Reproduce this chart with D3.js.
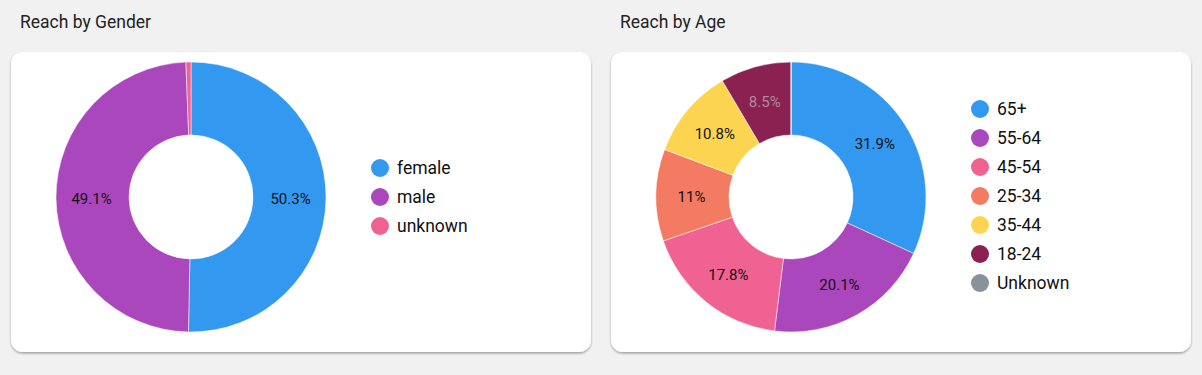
<!DOCTYPE html>
<html><head><meta charset="utf-8">
<script src="https://cdn.jsdelivr.net/npm/d3@7"></script>
<style>
html,body{margin:0;padding:0;background:#f1f1f1;font-family:Roboto,"Noto Sans",sans-serif;}
</style></head>
<body>
<svg id="c" width="1202" height="375"></svg>
<script>
const genderCats = ["female","male","unknown"];
const genderVals = [50.3, 49.1, 0.6];
const genderColors = ["#3399f0","#ab47bc","#f06292"];

const ageCats = ["65+","55-64","45-54","25-34","35-44","18-24","Unknown"];
const ageVals = [31.9, 20.1, 17.8, 11, 10.8, 8.5, 0];
const ageColors = ["#3399f0","#ab47bc","#f06292","#f27b62","#fdd44f","#8a2150","#8a9199"];

const svg = d3.select("#c");
const defs = svg.append("defs");
const f = defs.append("filter").attr("id","sh").attr("x","-5%").attr("y","-5%").attr("width","110%").attr("height","115%");
f.append("feDropShadow").attr("dx",0).attr("dy",1.5).attr("stdDeviation",1.2).attr("flood-color","#000").attr("flood-opacity",0.35);

function panel(x0, title, cats, vals, colors, legendY0, labelColors) {
  svg.append("text").attr("x", x0 + 9).attr("y", 28).attr("font-size", 17.5).attr("fill","#222").text(title);
  svg.append("rect").attr("x", x0).attr("y", 52).attr("width", 580).attr("height", 300)
    .attr("rx", 12).attr("fill", "#fff").attr("filter","url(#sh)");
  const cx = x0 + 180, cy = 197, R = 135, r = 62;
  const pie = d3.pie().sort(null).value(d => d.v);
  const data = pie(cats.map((c,i)=>({c, v: vals[i], i})));
  const arc = d3.arc().innerRadius(r).outerRadius(R);
  const lab = d3.arc().innerRadius((r+R)/2 + 1).outerRadius((r+R)/2 + 1);
  const g = svg.append("g").attr("transform", `translate(${cx},${cy})`);
  g.selectAll("path").data(data).join("path").attr("d", arc).attr("fill", d => colors[d.data.i])
    .attr("stroke","#fff").attr("stroke-width",0.5);
  g.selectAll("text").data(data.filter(d => d.data.v >= 5)).join("text")
    .attr("transform", d => `translate(${lab.centroid(d)})`)
    .attr("text-anchor","middle").attr("dy","0.4em").attr("font-size",15)
    .attr("fill", d => labelColors[d.data.i] || "#111")
    .text(d => d.data.v + "%");
  const lg = svg.append("g");
  cats.forEach((c,i) => {
    const y = legendY0 + i*29;
    lg.append("circle").attr("cx", x0 + 369).attr("cy", y).attr("r", 9).attr("fill", colors[i]);
    lg.append("text").attr("x", x0 + 386).attr("y", y).attr("dy","0.35em").attr("font-size",17.5).attr("fill","#111").text(c);
  });
}
panel(11, "Reach by Gender", genderCats, genderVals, genderColors, 168, {});
panel(611, "Reach by Age", ageCats, ageVals, ageColors, 109, {5: "#b08aa0"});
</script>
</body></html>
